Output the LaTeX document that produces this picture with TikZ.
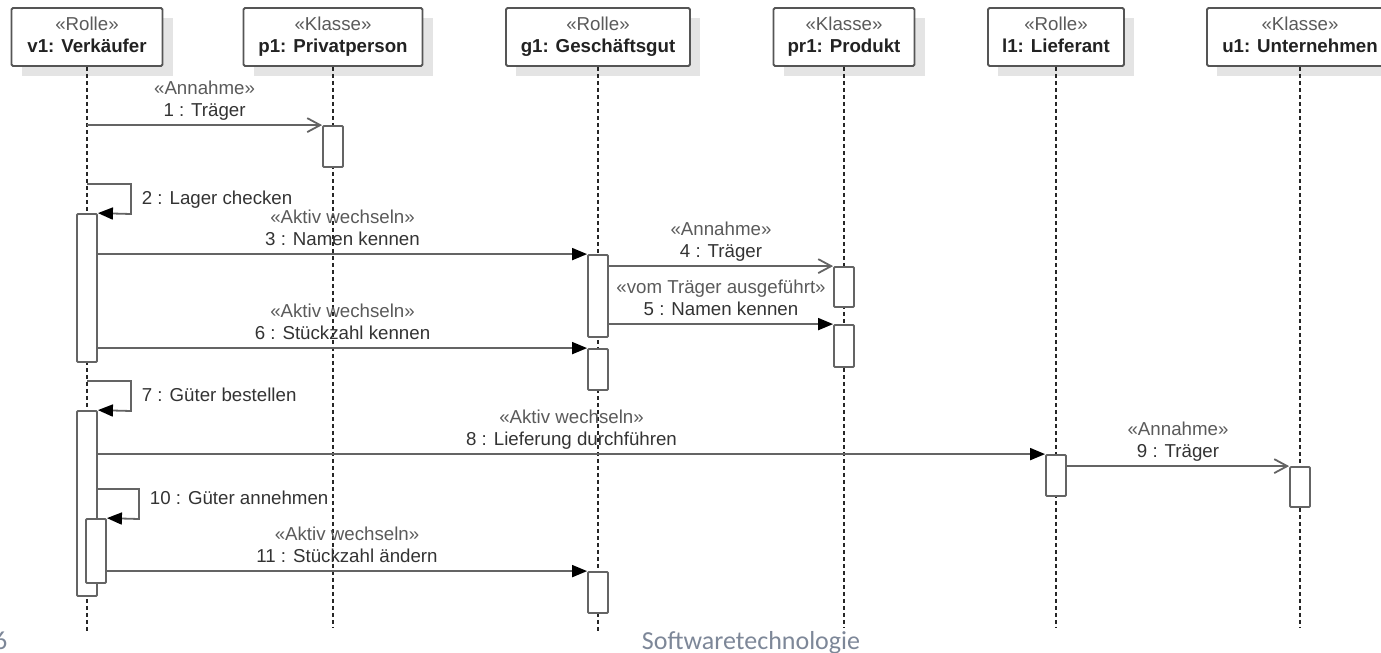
\documentclass[tikz,border=0pt]{standalone}
\usepackage{fontspec}
\setmainfont{Liberation Sans}
\newfontfamily\footfont{Carlito}
\usetikzlibrary{arrows.meta,shadows,positioning}
\definecolor{linegray}{HTML}{646464}
\definecolor{boxgray}{HTML}{555555}
\definecolor{stereo}{HTML}{5A5A5A}
\definecolor{txtgray}{HTML}{333333}
\definecolor{namegray}{HTML}{222222}
\definecolor{shadowgray}{HTML}{E4E4E4}
\definecolor{footblue}{RGB}{125,135,152}
\begin{document}
\begin{tikzpicture}[x=1pt, y=-1pt, font=\fontsize{18.7}{22}\selectfont, text=txtgray,
    head/.style = {draw=boxgray, line width=1.8pt, fill=white, rounded corners=1.5pt, minimum height=58pt, inner sep=0pt, align=center, text depth=5.5pt},
    shade/.style = {fill=shadowgray, minimum height=58pt, inner sep=0pt},
    act/.style = {draw=linegray, line width=1.8pt, fill=white, rounded corners=1pt, minimum width=20pt, inner sep=0pt},
    life/.style = {draw=black!85, line width=1.3pt, dash pattern=on 4pt off 3pt},
    sync/.style = {draw=linegray, line width=1.8pt, -{Triangle[length=15pt,width=12pt,color=black]}},
    async/.style = {draw=linegray, line width=1.8pt, -{Straight Barb[length=13pt,width=14pt]}},
    lbl/.style = {inner sep=0pt, align=center, text depth=0pt, above=7.5pt},
    selflbl/.style = {inner sep=0pt, text depth=0pt, right=10pt},
    foot/.style = {font=\footfont\fontsize{26}{30}\selectfont, text=footblue, inner sep=0pt}]
    \useasboundingbox (0,0) rectangle (1381,653);
    \node[shade, minimum width=151pt] (v1s) at (97,47) {};
    \node[shade, minimum width=179pt] (p1s) at (343,47) {};
    \node[shade, minimum width=184pt] (g1s) at (608,47) {};
    \node[shade, minimum width=141pt] (pr1s) at (854,47) {};
    \node[shade, minimum width=136pt] (l1s) at (1066,47) {};
    \node[shade, minimum width=186pt] (u1s) at (1310,47) {};
    \node[head, minimum width=151pt] (v1) at (87,37) {\textcolor{stereo}{«Rolle»}\\\textcolor{namegray}{\textbf{v1: Verkäufer}}};
    \node[head, minimum width=179pt] (p1) at (333,37) {\textcolor{stereo}{«Klasse»}\\\textcolor{namegray}{\textbf{p1: Privatperson}}};
    \node[head, minimum width=184pt] (g1) at (598,37) {\textcolor{stereo}{«Rolle»}\\\textcolor{namegray}{\textbf{g1: Geschäftsgut}}};
    \node[head, minimum width=141pt] (pr1) at (844,37) {\textcolor{stereo}{«Klasse»}\\\textcolor{namegray}{\textbf{pr1: Produkt}}};
    \node[head, minimum width=136pt] (l1) at (1056,37) {\textcolor{stereo}{«Rolle»}\\\textcolor{namegray}{\textbf{l1: Lieferant}}};
    \node[head, minimum width=186pt] (u1) at (1300,37) {\textcolor{stereo}{«Klasse»}\\\textcolor{namegray}{\textbf{u1: Unternehmen}}};
    \coordinate (v1end) at (87,633);
    \coordinate (p1end) at (333,627);
    \coordinate (g1end) at (598,633);
    \coordinate (pr1end) at (844,627);
    \coordinate (l1end) at (1056,627);
    \coordinate (u1end) at (1300,627);
    \draw[life] (v1) -- (v1end);
    \draw[life] (p1) -- (p1end);
    \draw[life] (g1) -- (g1end);
    \draw[life] (pr1) -- (pr1end);
    \draw[life] (l1) -- (l1end);
    \draw[life] (u1) -- (u1end);
    \node[act, minimum height=41pt] (p1a) at (333,146.5) {};
    \node[act, minimum height=148pt] (v1a) at (87,288) {};
    \node[act, minimum height=82pt] (g1a) at (598,296) {};
    \node[act, minimum height=40pt] (pr1a) at (844,287) {};
    \node[act, minimum height=42pt] (pr1b) at (844,346) {};
    \node[act, minimum height=41pt] (g1b) at (598,369.5) {};
    \node[act, minimum height=185pt] (v1b) at (87,503.5) {};
    \node[act, minimum height=41pt] (l1a) at (1056,475.5) {};
    \node[act, minimum height=40pt] (u1a) at (1300,487) {};
    \node[act, minimum height=64pt] (v1c) at (96,551) {};
    \node[act, minimum height=41pt] (g1c) at (598,592.5) {};
    \coordinate (s2) at (87,184);
    \coordinate (s7) at (87,381);
    \coordinate (s10) at (97,489);
    \draw[async] (v1 |- p1a.north) -- node[lbl] (m1) {\textcolor{stereo}{«Annahme»}\\1 : Träger} (p1a.north west);
    \draw[sync] (s2) -- ++(44,0) -- node[selflbl, pos=0.45] (m2) {2 : Lager checken} ++(0,30) -- (v1a.north east);
    \draw[sync] (v1a.east |- g1a.north) -- node[lbl] (m3) {\textcolor{stereo}{«Aktiv wechseln»}\\3 : Namen kennen} (g1a.north west);
    \draw[async] (g1a.east |- pr1a.north) -- node[lbl] (m4) {\textcolor{stereo}{«Annahme»}\\4 : Träger} (pr1a.north west);
    \draw[sync] (g1a.east |- pr1b.north) -- node[lbl] (m5) {\textcolor{stereo}{«vom Träger ausgeführt»}\\5 : Namen kennen} (pr1b.north west);
    \draw[sync] (v1a.east |- g1b.north) -- node[lbl] (m6) {\textcolor{stereo}{«Aktiv wechseln»}\\6 : Stückzahl kennen} (g1b.north west);
    \draw[sync] (s7) -- ++(44,0) -- node[selflbl, pos=0.45] (m7) {7 : Güter bestellen} ++(0,30) -- (v1b.north east);
    \draw[sync] (v1b.east |- l1a.north) -- node[lbl] (m8) {\textcolor{stereo}{«Aktiv wechseln»}\\8 : Lieferung durchführen} (l1a.north west);
    \draw[async] (l1a.east |- u1a.north) -- node[lbl] (m9) {\textcolor{stereo}{«Annahme»}\\9 : Träger} (u1a.north west);
    \draw[sync] (s10) -- ++(42,0) -- node[selflbl, pos=0.3] (m10) {10 : Güter annehmen} ++(0,30) -- (v1c.north east);
    \draw[sync] (v1c.east |- g1c.north) -- node[lbl] (m11) {\textcolor{stereo}{«Aktiv wechseln»}\\11 : Stückzahl ändern} (g1c.north west);
    \node[foot, anchor=base east] (pg) at (7.5,649) {6};
    \node[foot, anchor=base] (title) at (751,649) {Softwaretechnologie};
\end{tikzpicture}
\end{document}
